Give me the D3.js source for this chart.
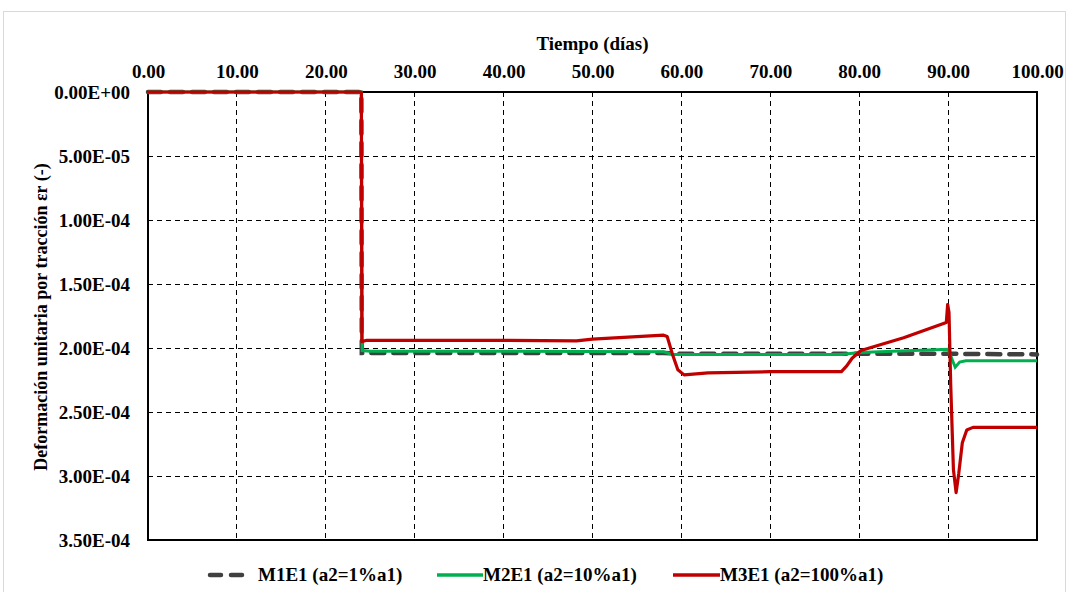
<!DOCTYPE html>
<html lang="es">
<head>
<meta charset="UTF-8">
<title>Deformación unitaria por tracción</title>
<script src="https://d3js.org/d3.v7.min.js"></script>
<style>
    body { margin: 0; background: #fff; }
    svg text { font-family: "Liberation Serif", "Times New Roman", serif; font-weight: bold; font-size: 19px; fill: #000; }
    svg text.ytitle { font-size: 18px; }
</style>
</head>
<body>
<svg id="chart"></svg>
<script>
// Data (tiempo in días, deformación as positive value, axis reversed)
const xTicks = [0, 10, 20, 30, 40, 50, 60, 70, 80, 90, 100];
const yTicks = [0, 5e-5, 1e-4, 1.5e-4, 2e-4, 2.5e-4, 3e-4, 3.5e-4];

const m1e1 = [
    [0, 0], [23.9, 0], [24.0, 0], [24.05, 2.04e-4], [40, 2.04e-4], [58, 2.04e-4],
    [60, 2.045e-4], [80, 2.045e-4], [90, 2.045e-4], [100, 2.05e-4]
];
const m2e1 = [
    [0, 0], [23.9, 0], [24.0, 0], [24.1, 2.02e-4], [25, 2.025e-4], [40, 2.025e-4], [58, 2.03e-4],
    [59, 2.05e-4], [70, 2.05e-4], [78, 2.05e-4], [80, 2.035e-4], [90, 2.01e-4],
    [90.4, 2.08e-4], [90.8, 2.15e-4], [91.3, 2.11e-4], [92, 2.10e-4], [100, 2.10e-4]
];
const m3e1 = [
    [0, 0], [23.9, 0], [24.0, 0], [24.05, 1.95e-4], [24.6, 1.94e-4], [40, 1.94e-4], [48.2, 1.945e-4],
    [50, 1.93e-4], [58, 1.90e-4], [58.4, 1.91e-4], [59.0, 2.05e-4], [59.6, 2.17e-4], [60.3, 2.21e-4],
    [63, 2.195e-4], [70, 2.185e-4], [78, 2.185e-4], [78.6, 2.14e-4], [79.2, 2.08e-4], [80.2, 2.02e-4],
    [85, 1.92e-4], [89.8, 1.80e-4], [89.95, 1.66e-4], [90.1, 1.72e-4], [90.3, 2.3e-4],
    [90.6, 2.95e-4], [90.9, 3.13e-4], [91.2, 2.98e-4], [91.6, 2.74e-4], [92.1, 2.64e-4],
    [92.8, 2.62e-4], [100, 2.62e-4]
];

const seriesNames = ["M1E1 (a2=1%a1)", "M2E1 (a2=10%a1)", "M3E1 (a2=100%a1)"];

const W = 1069, H = 592;
const margin = { left: 148, right: 32, top: 92, bottom: 52 };

const svg = d3.select("#chart").attr("width", W).attr("height", H);

// outer frame
svg.append("rect").attr("x", 3.5).attr("y", 11.5).attr("width", W - 7).attr("height", H)
    .attr("fill", "#fff").attr("stroke", "#d9d9d9").attr("stroke-width", 1);

const x = d3.scaleLinear().domain([0, 100]).range([margin.left, W - margin.right]);
const y = d3.scaleLinear().domain([0, 3.5e-4]).range([margin.top, H - margin.bottom]);

// grid
svg.append("g").attr("shape-rendering", "crispEdges")
    .selectAll("line").data(xTicks.slice(1, -1)).enter().append("line")
    .attr("x1", d => x(d)).attr("x2", d => x(d)).attr("y1", y(0)).attr("y2", y(3.5e-4))
    .attr("stroke", "#000").attr("stroke-width", 1).attr("stroke-dasharray", "5,4");
svg.append("g").attr("shape-rendering", "crispEdges")
    .selectAll("line").data(yTicks.slice(1, -1)).enter().append("line")
    .attr("x1", x(0)).attr("x2", x(100)).attr("y1", d => y(d)).attr("y2", d => y(d))
    .attr("stroke", "#000").attr("stroke-width", 1).attr("stroke-dasharray", "5,4");

// axes (labels only)
const xAxis = svg.append("g").attr("transform", "translate(0," + (margin.top - 11) + ")")
    .call(d3.axisTop(x).tickValues(xTicks).tickFormat(d3.format(".2f")).tickSize(0));
xAxis.select(".domain").remove();
xAxis.attr("font-family", null).attr("font-size", null);

const expFmt = d => {
    if (d === 0) return "0.00E+00";
    const e = Math.floor(Math.log10(d) + 1e-9);
    const m = d / Math.pow(10, e);
    return m.toFixed(2) + "E-" + String(-e).padStart(2, "0");
};
const yAxis = svg.append("g").attr("transform", "translate(" + (margin.left - 15) + ",0)")
    .call(d3.axisLeft(y).tickValues(yTicks).tickFormat(expFmt).tickSize(0));
yAxis.select(".domain").remove();
yAxis.attr("font-family", null).attr("font-size", null);
yAxis.selectAll("text").attr("dy", "0.35em");

// plot border
svg.append("rect").attr("x", x(0)).attr("y", y(0)).attr("width", x(100) - x(0)).attr("height", y(3.5e-4) - y(0))
    .attr("fill", "none").attr("stroke", "#000").attr("stroke-width", 2);

// titles
svg.append("text").attr("x", (x(0) + x(100)) / 2).attr("y", 50)
    .attr("text-anchor", "middle").text("Tiempo (días)");
svg.append("text").attr("class", "ytitle")
    .attr("transform", "translate(47," + 317 + ") rotate(-90)")
    .attr("text-anchor", "middle").text("Deformación unitaria por tracción εr (-)");

// lines
const line = d3.line().x(d => x(d[0])).y(d => y(d[1]));
svg.append("path").datum(m1e1).attr("d", line).attr("fill", "none")
    .attr("stroke", "#404040").attr("stroke-width", 4.5).attr("stroke-dasharray", "13,9")
    .attr("stroke-linecap", "round");
svg.append("path").datum(m2e1).attr("d", line).attr("fill", "none")
    .attr("stroke", "#00b050").attr("stroke-width", 3);
svg.append("path").datum(m3e1).attr("d", line).attr("fill", "none")
    .attr("stroke", "#c00000").attr("stroke-width", 3.2).attr("stroke-linejoin", "round");

// legend
const legendItems = [
    { name: seriesNames[0], color: "#404040", dash: "11,10", w: 4.5, x0: 210, len: 33, tx: 258 },
    { name: seriesNames[1], color: "#00b050", dash: null, w: 3.5, x0: 437, len: 46, tx: 483 },
    { name: seriesNames[2], color: "#c00000", dash: null, w: 3.5, x0: 673, len: 47, tx: 720 }
];
const legend = svg.append("g").attr("class", "legend");
legendItems.forEach(it => {
    legend.append("line").attr("x1", it.x0).attr("x2", it.x0 + it.len).attr("y1", 575).attr("y2", 575)
        .attr("stroke", it.color).attr("stroke-width", it.w).attr("stroke-dasharray", it.dash)
        .attr("stroke-linecap", it.dash ? "round" : "butt");
    legend.append("text").attr("x", it.tx).attr("y", 581).text(it.name);
});
</script>
</body>
</html>
